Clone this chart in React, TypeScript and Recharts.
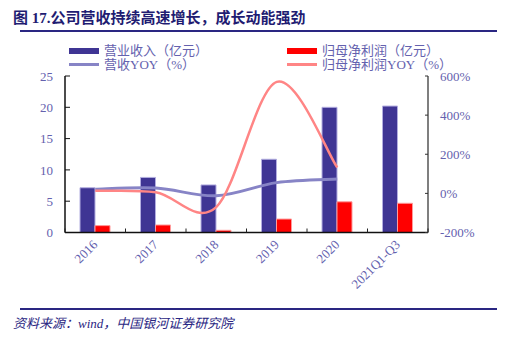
import React from 'react';
import { ComposedChart, Bar, Line, XAxis, YAxis, Legend } from 'recharts';

const categories = ['2016', '2017', '2018', '2019', '2020', '2021Q1-Q3'];
const revenue = [7.15, 8.8, 7.6, 11.7, 20.0, 20.2];
const netProfit = [1.1, 1.2, 0.35, 2.15, 4.9, 4.67];
const revenueYoy: (number | null)[] = [21, 27, -12, 55, 73, null];
const profitYoy: (number | null)[] = [13, 6, -70, 570, 132, null];
const leftTicks = [0, 5, 10, 15, 20, 25];
const rightTicks = [-200, 0, 200, 400, 600];

const data = categories.map((c, i) => ({
  name: c,
  revenue: revenue[i],
  netProfit: netProfit[i],
  revenueYoy: revenueYoy[i],
  profitYoy: profitYoy[i],
}));

const NAVY = '#2A2682';
const TICK = '#6461AE';
const FONT = "'Liberation Serif', 'Noto Sans CJK SC', serif";

// Catmull-Rom style smoothing (like Excel's smoothed line)
function smoothCurve(context: any) {
  let pts: number[][] = [];
  return {
    areaStart() {},
    areaEnd() {},
    lineStart() {
      pts = [];
    },
    point(x: number, y: number) {
      pts.push([+x, +y]);
    },
    lineEnd() {
      if (!pts.length) return;
      context.moveTo(pts[0][0], pts[0][1]);
      for (let i = 0; i < pts.length - 1; i++) {
        const p0 = pts[i - 1] || pts[i];
        const p1 = pts[i];
        const p2 = pts[i + 1];
        const p3 = pts[i + 2] || p2;
        const c1x = p1[0] + (p2[0] - p0[0]) / 6;
        const c1y = p1[1] + (p2[1] - p0[1]) / 6;
        const c2x = p2[0] - (p3[0] - p1[0]) / 6;
        const c2y = p2[1] - (p3[1] - p1[1]) / 6;
        context.bezierCurveTo(c1x, c1y, c2x, c2y, p2[0], p2[1]);
      }
    },
  };
}

const XTick = (props: any) => {
  const { x, y, payload, index, visibleTicksCount } = props;
  const off = payload.offset || 0;
  const axisY = y;
  return (
    <g>
      <line x1={x - off} x2={x - off} y1={axisY} y2={axisY - 4} stroke="#222" strokeWidth={1} />
      {index === visibleTicksCount - 1 && (
        <line x1={x + off} x2={x + off} y1={axisY} y2={axisY - 4} stroke="#222" strokeWidth={1} />
      )}
      <text
        x={x + 3}
        y={y + 13}
        transform={`rotate(-45 ${x + 3} ${y + 13})`}
        textAnchor="end"
        fill={TICK}
        fontSize={13}
        fontFamily={FONT}
      >
        {payload.value}
      </text>
    </g>
  );
};

const legendItems = [
  { label: '营业收入（亿元）', color: '#3F3594', type: 'rect' },
  { label: '归母净利润（亿元）', color: '#FF0000', type: 'rect' },
  { label: '营收YOY（%）', color: '#8784C6', type: 'line' },
  { label: '归母净利润YOY（%）', color: '#FF8585', type: 'line' },
];

const LegendContent = () => (
  <div style={{ position: 'relative', width: 511, height: 32 }}>
    {legendItems.map((it, i) => {
      const col = i % 2;
      const row = Math.floor(i / 2);
      const left = col === 0 ? 69 : 287;
      const top = row === 0 ? 0 : 14;
      return (
        <div
          key={it.label}
          style={{
            position: 'absolute',
            left,
            top,
            height: 15,
            display: 'flex',
            alignItems: 'center',
            whiteSpace: 'nowrap',
          }}
        >
          <div
            style={{
              width: 30,
              height: it.type === 'rect' ? 6 : 3,
              background: it.color,
              marginRight: 5,
            }}
          />
          <span style={{ fontSize: 13, color: TICK, fontFamily: FONT, lineHeight: '15px' }}>{it.label}</span>
        </div>
      );
    })}
  </div>
);

export default function App() {
  return (
    <div style={{ position: 'absolute', left: 0, top: 0, width: 511, height: 339, background: '#fff' }}>
      <div
        style={{
          position: 'absolute',
          left: 13,
          top: 8,
          fontSize: 15,
          fontWeight: 'bold',
          color: '#1F1C72',
          fontFamily: FONT,
          whiteSpace: 'nowrap',
          lineHeight: '20px',
        }}
      >
        图 17.公司营收持续高速增长，成长动能强劲
      </div>
      <div style={{ position: 'absolute', left: 20, top: 30, width: 477, height: 2, background: NAVY }} />
      <ComposedChart
        width={511}
        height={339}
        data={data}
        margin={{ top: 44, right: 23, bottom: 50, left: 5 }}
        barGap={0}
        barSize={15}
      >
        <XAxis
          dataKey="name"
          tickLine={false}
          axisLine={{ stroke: '#111', strokeWidth: 1.5 }}
          tick={<XTick />}
          interval={0}
          height={56.5}
          tickMargin={0}
          tickSize={0}
        />
        <YAxis
          yAxisId="left"
          orientation="left"
          width={60}
          domain={[0, 25]}
          ticks={leftTicks}
          tickSize={-5}
          tickMargin={17}
          axisLine={{ stroke: '#111', strokeWidth: 1.5 }}
          tickLine={{ stroke: '#111' }}
          tick={{ fill: TICK, fontSize: 13, fontFamily: FONT }}
          allowDataOverflow
        />
        <YAxis
          yAxisId="right"
          orientation="right"
          width={60}
          domain={[-200, 600]}
          ticks={rightTicks}
          tickSize={-3}
          tickMargin={15}
          tickFormatter={(v: number) => `${v}%`}
          axisLine={{ stroke: '#555', strokeWidth: 1.5 }}
          tickLine={{ stroke: '#333' }}
          tick={{ fill: TICK, fontSize: 13, fontFamily: FONT, textAnchor: 'start' }}
          allowDataOverflow
        />
        <Legend
          verticalAlign="top"
          align="left"
          content={<LegendContent />}
          wrapperStyle={{ position: 'absolute', left: 0, top: 43, width: 511 }}
        />
        <Bar
          yAxisId="left"
          dataKey="revenue"
          fill="#3F3594"
          stroke="#B3AEE0"
          strokeWidth={1}
          isAnimationActive={false}
        />
        <Bar
          yAxisId="left"
          dataKey="netProfit"
          fill="#FF0000"
          stroke="#FF9A9A"
          strokeWidth={1}
          isAnimationActive={false}
        />
        <Line
          yAxisId="right"
          dataKey="revenueYoy"
          type={smoothCurve as any}
          stroke="#8784C6"
          strokeWidth={3}
          dot={false}
          activeDot={false}
          isAnimationActive={false}
        />
        <Line
          yAxisId="right"
          dataKey="profitYoy"
          type={smoothCurve as any}
          stroke="#FF8585"
          strokeWidth={2.5}
          dot={false}
          activeDot={false}
          isAnimationActive={false}
        />
      </ComposedChart>
      <div style={{ position: 'absolute', left: 20, top: 308, width: 477, height: 2, background: NAVY }} />
      <div
        style={{
          position: 'absolute',
          left: 13,
          top: 315,
          fontSize: 13,
          fontStyle: 'italic',
          color: '#2A2682',
          fontFamily: FONT,
          whiteSpace: 'nowrap',
          lineHeight: '18px',
        }}
      >
        资料来源：wind，中国银河证券研究院
      </div>
    </div>
  );
}
